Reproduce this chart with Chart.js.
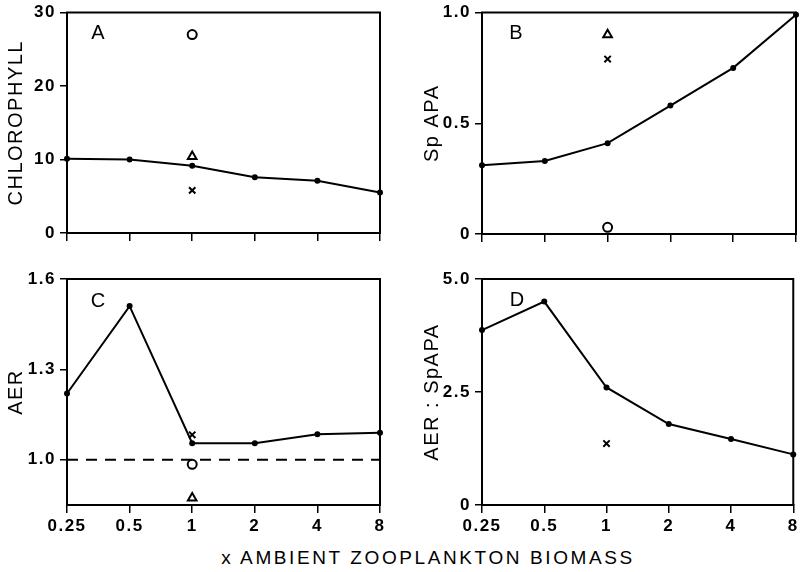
<!DOCTYPE html>
<html>
<head>
<meta charset="utf-8">
<script src="https://cdn.jsdelivr.net/npm/chart.js@4.4.1/dist/chart.umd.min.js"></script>
<style>
  body { margin: 0; background: #fff; }
  #wrap { position: relative; width: 803px; height: 572px; overflow: hidden; }
  canvas { position: absolute; }
  #xtitle {
    position: absolute; left: 0; width: 856px; top: 547px; text-align: center;
    font: 19px "Liberation Sans", Arial, sans-serif; letter-spacing: 2.6px; color: #000;
  }
</style>
</head>
<body>
<div id="wrap">
  <canvas id="panelA" width="400" height="260" style="left:0;top:0"></canvas>
  <canvas id="panelB" width="403" height="260" style="left:400px;top:0"></canvas>
  <canvas id="panelC" width="400" height="275" style="left:0;top:260px"></canvas>
  <canvas id="panelD" width="403" height="275" style="left:400px;top:260px"></canvas>
  <div id="xtitle">x AMBIENT ZOOPLANKTON BIOMASS</div>
</div>
<script>
// zooplankton multiples (x ambient), evenly spaced on a log2 axis
const xLabels = ["0.25", "0.5", "1", "2", "4", "8"];

// treatment series
const chlorophyll = [10.1, 10.0, 9.15, 7.6, 7.1, 5.5];
const spApa = [0.31, 0.33, 0.41, 0.58, 0.75, 0.99];
const aer = [1.22, 1.51, 1.055, 1.055, 1.085, 1.09];
const aerSpApa = [3.87, 4.50, 2.60, 1.79, 1.46, 1.12];

// single controls at x = 1: circle, triangle, cross
const markerStyles = ["circle", "triangle", "crossRot"];
const chlorophyllAt1 = [27.0, 10.4, 5.8];
const spApaAt1 = [0.03, 0.90, 0.79];
const aerAt1 = [0.985, 0.873, 1.083];
const aerSpApaAt1 = [null, null, 1.36];

// reference line in panel C
const aerReference = 1.0;

// y axis ranges and ticks
const yTicksA = [0, 10, 20, 30];
const yTicksB = [0, 0.5, 1.0];
const yTicksC = [1.0, 1.3, 1.6];
const yTicksD = [0, 2.5, 5.0];

const tickFont = { family: "'Liberation Sans', Arial, sans-serif", size: 17, weight: "bold", lineHeight: 1 };
const titleFont = { family: "'Liberation Sans', Arial, sans-serif", size: 20, lineHeight: 1 };

// wider letter spacing for the axis text, box round the plot area, panel letter
const framePlugin = {
  id: "frame",
  beforeDraw(chart) {
    chart.ctx.letterSpacing = "1.5px";
  },
  beforeDatasetsDraw(chart, args, opts) {
    const { ctx, chartArea: a } = chart;
    ctx.save();
    ctx.strokeStyle = "#000";
    ctx.lineWidth = 2;
    ctx.strokeRect(a.left, a.top, a.right - a.left, a.bottom - a.top);
    ctx.fillStyle = "#000";
    ctx.letterSpacing = "0px";
    ctx.font = "20px 'Liberation Sans', Arial, sans-serif";
    ctx.textAlign = "center";
    ctx.textBaseline = "middle";
    ctx.fillText(opts.letter, a.left + opts.dx, a.top + opts.dy);
    ctx.restore();
  }
};

function makePanel(id, cfg) {
  const datasets = [{
    data: cfg.series,
    borderColor: "#000",
    borderWidth: 2,
    pointRadius: 3,
    pointBackgroundColor: "#000",
    pointBorderColor: "#000",
    pointBorderWidth: 0,
    tension: 0,
    clip: false
  }];

  if (cfg.reference !== undefined) {
    datasets.push({
      data: xLabels.map(() => cfg.reference),
      borderColor: "#000",
      borderWidth: 2,
      borderDash: [11, 8],
      pointRadius: 0,
      clip: false
    });
  }

  cfg.at1.forEach((v, i) => {
    if (v === null) return;
    datasets.push({
      data: [{ x: "1", y: v }],
      showLine: false,
      pointStyle: markerStyles[i],
      pointRadius: markerStyles[i] === "triangle" ? 5 : 4.5,
      pointBackgroundColor: "#fff",
      pointBorderColor: "#000",
      pointBorderWidth: 2,
      clip: false
    });
  });

  return new Chart(document.getElementById(id), {
    type: "line",
    data: { labels: xLabels, datasets: datasets },
    plugins: [framePlugin],
    options: {
      responsive: false,
      animation: false,
      layout: { padding: { top: cfg.padTop, right: cfg.padRight, left: 0, bottom: 0 } },
      plugins: {
        legend: { display: false },
        tooltip: { enabled: false },
        frame: { letter: cfg.letter, dx: cfg.letterDx, dy: cfg.letterDy }
      },
      scales: {
        x: {
          type: "category",
          offset: false,
          grid: { drawOnChartArea: false, drawTicks: true, tickLength: 8, color: "#000", lineWidth: 1.5, offset: false },
          border: { display: true, color: "#000", width: 2 },
          ticks: { display: cfg.showX, color: "#000", font: tickFont, padding: 5, maxRotation: 0, autoSkip: false },
          afterFit: (scale) => { scale.height = cfg.xHeight; }
        },
        y: {
          min: cfg.yMin,
          max: cfg.yMax,
          grid: { drawOnChartArea: false, drawTicks: true, tickLength: 7, color: "#000", lineWidth: 1.5 },
          border: { display: true, color: "#000", width: 2 },
          ticks: {
            color: "#000",
            font: tickFont,
            padding: 4,
            callback: (v) => (v === 0 ? "0" : cfg.decimals ? v.toFixed(1) : String(v))
          },
          afterBuildTicks: (scale) => { scale.ticks = cfg.yTicks.map((v) => ({ value: v })); },
          afterFit: (scale) => { scale.width = cfg.yWidth; },
          title: {
            display: true,
            text: cfg.yTitle,
            color: "#000",
            font: titleFont,
            padding: { top: cfg.titlePad, bottom: 0 }
          }
        }
      }
    }
  });
}

makePanel("panelA", {
  series: chlorophyll, at1: chlorophyllAt1, yMin: 0, yMax: 30, yTicks: yTicksA, decimals: false,
  yTitle: "CHLOROPHYLL", letter: "A", letterDx: 31, letterDy: 21,
  padTop: 8, padRight: 20, yWidth: 67, xHeight: 27, showX: false, titlePad: 6
});

makePanel("panelB", {
  series: spApa, at1: spApaAt1, yMin: 0, yMax: 1, yTicks: yTicksB, decimals: true,
  yTitle: "Sp APA", letter: "B", letterDx: 34, letterDy: 21,
  padTop: 8, padRight: 3, yWidth: 82, xHeight: 26, showX: false, titlePad: 22
});

makePanel("panelC", {
  series: aer, at1: aerAt1, reference: aerReference, yMin: 0.85, yMax: 1.6, yTicks: yTicksC, decimals: true,
  yTitle: "AER", letter: "C", letterDx: 31, letterDy: 22,
  padTop: 19, padRight: 20, yWidth: 67, xHeight: 30, showX: true, titlePad: 6
});

makePanel("panelD", {
  series: aerSpApa, at1: aerSpApaAt1, yMin: 0, yMax: 5, yTicks: yTicksD, decimals: true,
  yTitle: "AER : SpAPA", letter: "D", letterDx: 35, letterDy: 21,
  padTop: 19, padRight: 3, yWidth: 82, xHeight: 30, showX: true, titlePad: 22
});
</script>
</body>
</html>
